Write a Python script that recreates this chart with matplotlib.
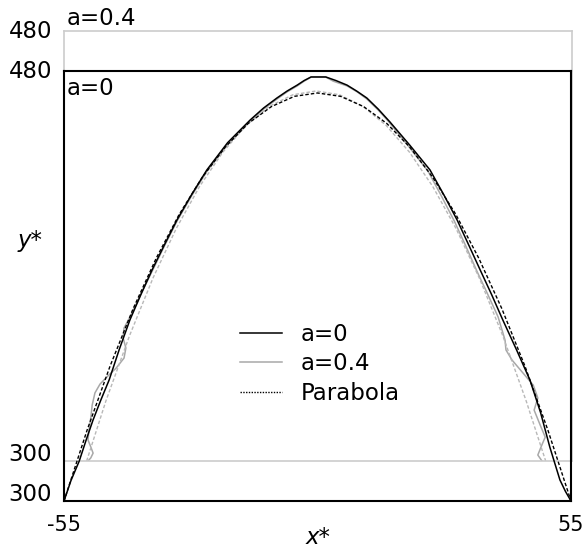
import matplotlib.pyplot as plt

# free-surface profiles
A0_X = [-55.0, -53.5, -51.7, -50.2, -48.7, -47.0, -45.2, -43.0, -40.7, -38.3, -35.9, -33.2,
        -30.5, -27.3, -24.0, -19.5, -14.6, -11.7, -8.8, -6.6, -4.4, -2.9, -1.4,
        1.8, 4.0, 6.4, 8.5, 10.7, 13.2, 15.7, 20.0, 24.4, 27.4, 30.3, 32.8, 35.3,
        37.8, 40.2, 43.2, 46.1, 48.4, 50.4, 52.6, 53.8, 55.0]
A0_Y = [300.0, 308.5, 316.7, 325.5, 333.9, 342.3, 350.7, 363.5, 375.8, 386.5, 396.7, 407.3,
        417.6, 428.3, 438.6, 450.0, 459.5, 464.5, 468.7, 471.6, 474.1, 476.0, 477.5,
        477.5, 476.0, 474.1, 471.6, 468.7, 464.0, 458.7, 449.0, 438.6, 428.2, 417.6, 407.2, 396.7,
        386.3, 375.8, 363.2, 350.6, 337.0, 322.6, 308.8, 304.0, 300.0]

A04_X = [-49.8, -49.2, -48.7, -49.2, -49.8, -49.6, -49.2, -48.9, -48.3, -47.2, -45.5, -43.7,
         -42.0, -41.6, -42.2, -42.0, -40.7, -38.3, -35.9, -33.2, -30.5, -27.3, -24.0, -19.5,
         -14.7, -11.8, -8.9, -6.7, -4.5, -3.0, -1.5,
         1.7, 3.3, 6.3, 8.5, 10.6, 13.0, 15.2, 19.5, 23.8, 26.7, 29.5, 32.0, 34.4, 36.7, 39.0,
         40.5, 40.7, 42.0, 44.4, 46.6, 47.6, 46.8, 48.1, 49.2, 48.3, 47.6, 48.5]
A04_Y = [300.0, 301.3, 303.3, 305.9, 308.8, 313.0, 318.0, 323.4, 328.5, 332.2, 335.6, 338.9,
         343.1, 347.3, 351.5, 355.7, 360.3, 370.0, 379.5, 390.2, 400.5, 411.2, 421.4, 432.6,
         442.3, 447.3, 451.5, 454.5, 457.0, 459.0, 460.7,
         460.7, 459.0, 457.0, 454.5, 451.5, 447.0, 442.3, 432.0, 421.4, 411.0, 400.5, 390.0, 379.5, 370.0, 360.3,
         350.6, 346.5, 342.3, 336.8, 331.8, 326.4, 321.3, 315.1, 310.0, 305.9, 302.5, 300.0]

PAR0_X = [-55, -50, -45, -40, -35, -30, -25, -20, -15, -10, -5, 0,
          5, 10, 15, 20, 25, 30, 35, 40, 45, 50, 55]
PAR0_Y = [300.0, 329.6, 356.5, 380.5, 401.6, 420.0, 435.5, 448.2, 458.1, 465.1, 469.4, 470.8,
          469.4, 465.1, 458.1, 448.2, 435.5, 420.0, 401.6, 380.5, 356.5, 329.6, 300.0]

PAR04_X = [-50.1, -45.9, -40.8, -35.75, -30.7, -25.65, -20.6, -15.55, -10.5, -5.45, -0.4,
           4.65, 9.7, 14.75, 19.8, 24.85, 29.9, 34.95, 40.0, 45.05, 49.3]
PAR04_Y = [300.0, 325.3, 352.5, 376.5, 397.3, 414.9, 429.3, 440.5, 448.5, 453.3, 454.9,
           453.3, 448.5, 440.5, 429.3, 414.9, 397.3, 376.5, 352.5, 325.3, 300.0]

X_LIM = (-55, 55)
Y_LIM = (300, 480)
X_TICKS = [-55, 55]
X_TICK_LABELS = ["-55", "55"]
Y_TICKS = [300, 480]

GRAY = "#a8a8a8"
FRAME_GRAY = "#cccccc"
FS = 16.5

W, H = 584, 548
fig = plt.figure(figsize=(W / 100, H / 100), dpi=100)


def px_rect(left, top, right, bottom):
    return [left / W, 1 - bottom / H, (right - left) / W, (bottom - top) / H]


def style_frame(ax, color, lw):
    for spine in ax.spines.values():
        spine.set_color(color)
        spine.set_linewidth(lw)
    ax.set_xlim(*X_LIM)
    ax.set_ylim(*Y_LIM)
    ax.tick_params(length=0, labelsize=FS, pad=8.5)
    ax.set_yticks(Y_TICKS)
    for lab, val in zip(ax.get_yticklabels(), Y_TICKS):
        lab.set_va("baseline" if val == 300 else "center")


# a=0.4 frame, shifted up behind the a=0 frame
ax_g = fig.add_axes(px_rect(64, 31, 572, 461))
style_frame(ax_g, FRAME_GRAY, 1.2)
ax_g.set_xticks([])
h04, = ax_g.plot(A04_X, A04_Y, color=GRAY, lw=1.1, label="a=0.4")
ax_g.plot(PAR04_X, PAR04_Y, color="#b8b8b8", lw=1.0, dashes=(2.5, 1.5))

# a=0 frame
ax = fig.add_axes(px_rect(64, 71, 571, 501))
ax.patch.set_visible(False)
style_frame(ax, "black", 1.5)
ax.set_xticks(X_TICKS)
ax.set_xticklabels(X_TICK_LABELS)
ax.tick_params(axis="x", pad=10, labelsize=15)
h0, = ax.plot(A0_X, A0_Y, color="black", lw=1.1, label="a=0")
hp, = ax.plot(PAR0_X, PAR0_Y, color="black", lw=1.0, dashes=(2.5, 1.5), label="Parabola")

leg = ax.legend(handles=[h0, h04, hp], loc="center left",
                bbox_to_anchor=((240 - 64) / 507, (501 - 364) / 430),
                frameon=False, fontsize=FS, borderpad=0, borderaxespad=0,
                handlelength=1.85, handletextpad=0.8, labelspacing=0.3)
leg.get_lines()[2].set_dashes((1, 1))

fig.text(67 / W, 1 - 25 / H, "a=0.4", fontsize=FS, va="baseline")
fig.text(67 / W, 1 - 95 / H, "a=0", fontsize=FS, va="baseline")
fig.text(30 / W, 1 - 240 / H, "y*", fontsize=FS, style="italic", ha="center", va="center")
fig.text(318 / W, 1 - 537 / H, "x*", fontsize=FS, style="italic", ha="center", va="center")

fig.savefig("out.png", dpi=100)
